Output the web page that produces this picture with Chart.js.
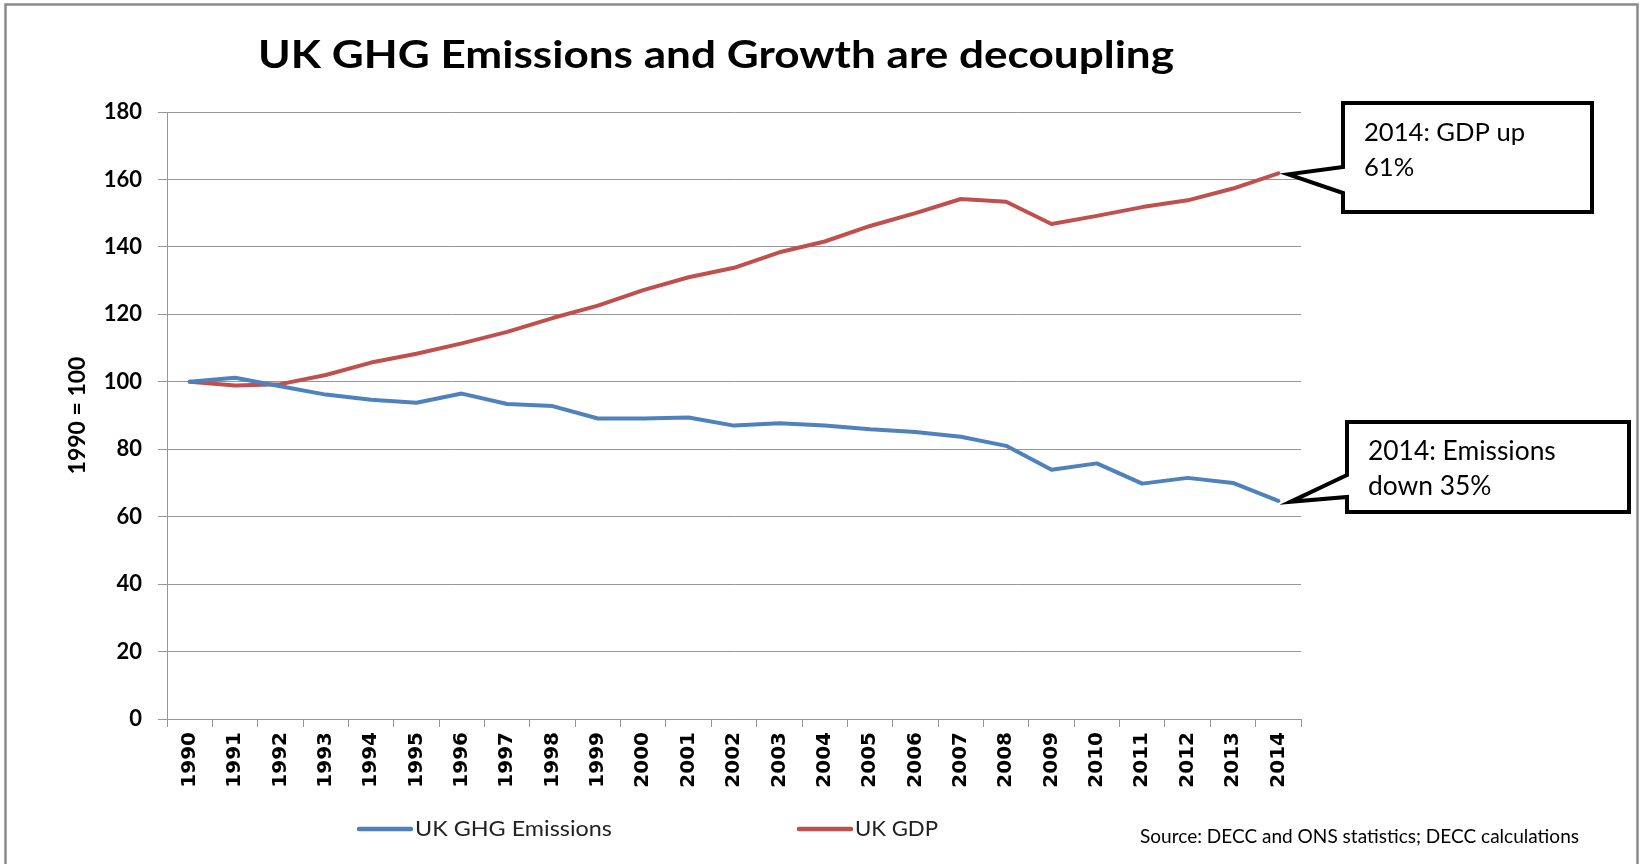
<!DOCTYPE html>
<html lang="en">
  <head>
    <meta charset="UTF-8" />
    <title>UK GHG Emissions and Growth are decoupling</title>
    <script src="https://cdn.jsdelivr.net/npm/chart.js"></script>
    <style>
      html,
      body {
        margin: 0;
        padding: 0;
        background: #fff;
        overflow: hidden;
      }
      #chartContainer {
        position: relative;
        width: 1640px;
        height: 864px;
      }
    </style>
  </head>
  <body>
    <div id="chartContainer">
      <canvas id="myChart"></canvas>
    </div>

    <script>
      // data (index, 1990 = 100)
      const years = [
        "1990", "1991", "1992", "1993", "1994", "1995", "1996", "1997", "1998",
        "1999", "2000", "2001", "2002", "2003", "2004", "2005", "2006", "2007",
        "2008", "2009", "2010", "2011", "2012", "2013", "2014",
      ];
      const emissions = [
        100, 101.2, 98.7, 96.2, 94.7, 93.8, 96.5, 93.4, 92.8, 89.1, 89.1, 89.4,
        87.0, 87.7, 87.0, 85.9, 85.1, 83.7, 81.0, 73.9, 75.8, 69.8, 71.5, 70.0,
        64.7,
      ];
      const gdp = [
        100, 98.9, 99.3, 102.0, 105.7, 108.3, 111.4, 114.8, 118.9, 122.6, 127.2,
        131.0, 133.8, 138.4, 141.6, 146.2, 150.0, 154.2, 153.4, 146.8, 149.2,
        151.8, 153.8, 157.3, 161.8,
      ];
      const seriesNames = ["UK GHG Emissions", "UK GDP"];
      const seriesColors = ["#4f81bd", "#c0504d"];
      const yMin = 0;
      const yMax = 180;
      const yStep = 20;
      const titleText = "UK GHG Emissions and Growth are decoupling";
      const yAxisTitle = "1990 = 100";
      const sourceText = "Source: DECC and ONS statistics; DECC calculations";
      const calloutLines = [
        ["2014: Emissions", "down 35%"],
        ["2014: GDP up", "61%"],
      ];

      const gridColor = "#969696";

      function fitFont(ctx, text, weight, family, width) {
        ctx.font = weight + " 100px " + family;
        const size = (100 * width) / ctx.measureText(text).width;
        return weight + " " + size.toFixed(1) + "px " + family;
      }

      // draws text at a given size, squeezed sideways to a given width
      function squeezedText(ctx, text, font, left, baseline, width) {
        ctx.font = font;
        const k = width / ctx.measureText(text).width;
        ctx.save();
        ctx.translate(left, baseline);
        ctx.scale(k, 1);
        ctx.textAlign = "left";
        ctx.fillText(text, 0, 0);
        ctx.restore();
      }

      // title, legend, source note, callouts and the outer frame
      const decorations = {
        id: "decorations",
        afterDraw(chart) {
          const ctx = chart.ctx;
          ctx.save();

          // outer frame
          ctx.strokeStyle = "#8a8a8a";
          ctx.lineWidth = 2.5;
          ctx.beginPath();
          ctx.moveTo(5.5, 864);
          ctx.lineTo(5.5, 4.5);
          ctx.lineTo(1637.5, 4.5);
          ctx.lineTo(1637.5, 864);
          ctx.stroke();

          // title
          ctx.fillStyle = "#000";
          ctx.textBaseline = "alphabetic";
          squeezedText(ctx, titleText, "bold 38px Lato", 258, 68, 916);

          // legend
          ctx.textAlign = "left";
          const legendItems = [
            { x0: 359, x1: 411, tx: 415, w: 197 },
            { x0: 799, x1: 851, tx: 855, w: 83 },
          ];
          chart.data.datasets.forEach((ds, i) => {
            const it = legendItems[i];
            ctx.strokeStyle = ds.borderColor;
            ctx.lineWidth = 4.5;
            ctx.lineCap = "round";
            ctx.beginPath();
            ctx.moveTo(it.x0, 829);
            ctx.lineTo(it.x1, 829);
            ctx.stroke();
            ctx.fillStyle = "#222";
            squeezedText(ctx, ds.label, "21px Lato", it.tx, 836, it.w);
          });

          // source note
          ctx.fillStyle = "#000";
          squeezedText(ctx, sourceText, "19.5px Lato", 1140, 843, 439);

          // callouts pointing at the last point of each series
          const boxes = [
            { x: 1347, y: 422, w: 282, h: 90, n0: 475, n1: 497, dx: 12, tw: 188 },
            { x: 1343, y: 103, w: 249, h: 109, n0: 167, n1: 193, dx: 10, tw: 161 },
          ];
          chart.data.datasets.forEach((ds, i) => {
            const meta = chart.getDatasetMeta(i);
            const pt = meta.data[meta.data.length - 1];
            const b = boxes[i];
            ctx.beginPath();
            ctx.moveTo(b.x, b.y);
            ctx.lineTo(b.x + b.w, b.y);
            ctx.lineTo(b.x + b.w, b.y + b.h);
            ctx.lineTo(b.x, b.y + b.h);
            ctx.lineTo(b.x, b.n1);
            ctx.lineTo(pt.x + b.dx, pt.y + 1);
            ctx.lineTo(b.x, b.n0);
            ctx.closePath();
            ctx.fillStyle = "#fff";
            ctx.fill();
            ctx.strokeStyle = "#000";
            ctx.lineWidth = 4;
            ctx.lineJoin = "miter";
            ctx.stroke();

            ctx.fillStyle = "#000";
            ctx.textAlign = "left";
            ctx.font = fitFont(ctx, calloutLines[i][0], "normal", "Lato", b.tw);
            ctx.fillText(calloutLines[i][0], b.x + 21, b.y + 38);
            ctx.fillText(calloutLines[i][1], b.x + 21, b.y + 73);
          });

          ctx.restore();
        },
      };

      function makeChart() {
        const ctx = document.getElementById("myChart").getContext("2d");
        new Chart(ctx, {
          type: "line",
          data: {
            labels: years,
            datasets: [
              {
                label: seriesNames[0],
                data: emissions,
                borderColor: seriesColors[0],
                backgroundColor: seriesColors[0],
                borderWidth: 4,
                pointRadius: 0,
                tension: 0,
                borderJoinStyle: "round",
                borderCapStyle: "round",
              },
              {
                label: seriesNames[1],
                data: gdp,
                borderColor: seriesColors[1],
                backgroundColor: seriesColors[1],
                borderWidth: 4,
                pointRadius: 0,
                tension: 0,
                borderJoinStyle: "round",
                borderCapStyle: "round",
              },
            ],
          },
          options: {
            responsive: true,
            maintainAspectRatio: false,
            animation: false,
            layout: {
              padding: { left: 0, top: 112, right: 339, bottom: 0 },
            },
            plugins: {
              legend: { display: false },
              title: { display: false },
              tooltip: { enabled: false },
            },
            scales: {
              x: {
                offset: true,
                grid: {
                  offset: true,
                  drawOnChartArea: false,
                  tickLength: 8,
                  color: gridColor,
                },
                border: { color: gridColor },
                ticks: {
                  autoSkip: false,
                  maxRotation: 90,
                  minRotation: 90,
                  padding: 5,
                  color: "#000",
                  font: { family: "DejaVu Sans", weight: "bold", size: 20 },
                },
                afterFit: (scale) => {
                  scale.height = 145;
                },
              },
              y: {
                min: yMin,
                max: yMax,
                ticks: {
                  stepSize: yStep,
                  padding: 16,
                  color: "#000",
                  font: { family: "Lato", weight: "bold", size: 22 },
                },
                grid: { color: gridColor, tickLength: 9 },
                border: { color: gridColor },
                title: {
                  display: true,
                  text: yAxisTitle,
                  color: "#000",
                  font: { family: "Lato", weight: "bold", size: 23 },
                  padding: { top: 64, bottom: 0 },
                },
                afterFit: (scale) => {
                  scale.width = 167;
                },
              },
            },
          },
          plugins: [decorations],
        });
      }

      Promise.all([
        document.fonts.load("bold 20px Lato"),
        document.fonts.load("20px Lato"),
        document.fonts.load("bold 20px 'DejaVu Sans'"),
      ])
        .catch(() => {})
        .then(makeChart);
    </script>
  </body>
</html>
